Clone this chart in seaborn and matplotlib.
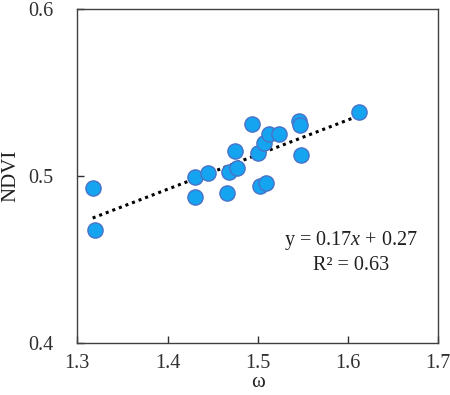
import seaborn as sns
import pandas as pd
import matplotlib.pyplot as plt

# omega vs NDVI values
omega = [1.317, 1.320, 1.430, 1.430, 1.445, 1.466, 1.468, 1.477, 1.475, 1.494,
         1.500, 1.502, 1.509, 1.507, 1.512, 1.524, 1.546, 1.547, 1.548, 1.612]
ndvi = [0.4926, 0.4674, 0.4994, 0.4874, 0.5016, 0.4896, 0.5026, 0.5046, 0.5150, 0.5310,
        0.5136, 0.4940, 0.4956, 0.5194, 0.5250, 0.5250, 0.5326, 0.5306, 0.5126, 0.5384]
xticks = [1.3, 1.4, 1.5, 1.6, 1.7]
yticks = [0.4, 0.5, 0.6]

df = pd.DataFrame({'omega': omega, 'NDVI': ndvi})

sns.set_theme(style='white')
plt.rcParams['font.family'] = ['Liberation Serif', 'DejaVu Serif']
plt.rcParams['mathtext.fontset'] = 'custom'
plt.rcParams['mathtext.it'] = 'Liberation Serif:italic'
plt.rcParams['mathtext.rm'] = 'Liberation Serif'

fig = plt.figure(figsize=(4.5, 3.95), dpi=100)
ax = fig.add_axes([0.1718, 0.1324, 0.8022, 0.8448])

sns.regplot(data=df, x='omega', y='NDVI', ci=None, scatter=False, ax=ax,
            color='black', line_kws={'ls': (0, (1, 1.3)), 'lw': 2.2})
sns.scatterplot(data=df, x='omega', y='NDVI', ax=ax, s=120,
                color='#14A4F0', edgecolor='#4A72C8', linewidth=1.0, zorder=3)

ax.set_xlim(1.3, 1.7)
ax.set_ylim(0.4, 0.6)
ax.set_xticks(xticks)
ax.set_yticks(yticks)
ax.set_xticklabels([f'{t:.1f}' for t in xticks])
ax.set_yticklabels([f'{t:.1f}' for t in yticks])
ax.tick_params(axis='x', direction='in', length=5, width=1, pad=8, labelsize=14.5, colors='#303030')
ax.tick_params(axis='y', direction='in', length=5, width=1, pad=17, labelsize=14.5, colors='#303030')
ax.tick_params(bottom=True, left=True)
for sp in ax.spines.values():
    sp.set_color('#404040')
    sp.set_linewidth(1)

ax.set_xlabel('ω', fontsize=15, labelpad=0, color='#202020')
ax.set_ylabel('NDVI', fontsize=15, labelpad=6, color='#202020')

ax.text(1.603, 0.461, 'y = 0.17$x$ + 0.27', ha='center', va='center', fontsize=14.5, color='#202020')
ax.text(1.603, 0.446, 'R² = 0.63', ha='center', va='center', fontsize=14.5, color='#202020')

fig.savefig('out.png', dpi=100)
